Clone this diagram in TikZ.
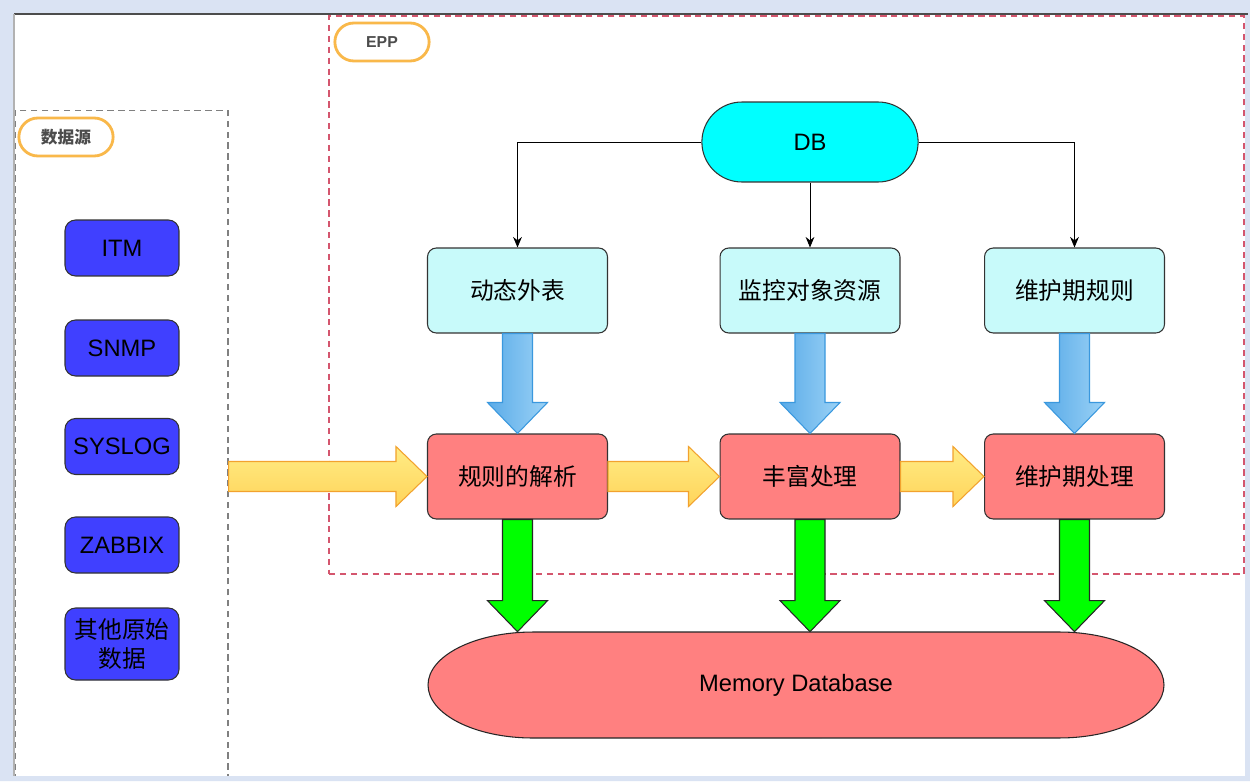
\documentclass[tikz,border=0pt]{standalone}
\usepackage{fontspec}
\setmainfont{Liberation Sans}
\newfontfamily\cjk{Noto Sans CJK SC}
\usetikzlibrary{arrows.meta,calc,shapes.misc}
\definecolor{bgblue}{HTML}{DAE3F3}
\definecolor{srcblue}{HTML}{4040FF}
\definecolor{dbcyan}{HTML}{00FFFF}
\definecolor{lcyan}{HTML}{C8FAFA}
\definecolor{lred}{HTML}{FF8080}
\definecolor{pillorange}{HTML}{F9B84A}
\definecolor{eppred}{HTML}{D4566E}
\definecolor{arrblueA}{HTML}{5AABE8}
\definecolor{arrblueB}{HTML}{9BD2F6}
\definecolor{arrblueD}{HTML}{3A98DE}
\definecolor{arryelA}{HTML}{FFEC85}
\definecolor{arryelB}{HTML}{FFD45A}
\definecolor{arryelD}{HTML}{F2A22E}
\begin{document}
\begin{tikzpicture}[x=0.02cm,y=-0.02cm,
  txt/.style={font=\fontsize{13.5}{16}\selectfont},
  srcbox/.style={txt,draw=black!80,line width=0.6pt,fill=srcblue,rounded corners=6pt,minimum width=2.28cm,minimum height=1.12cm,align=center,inner sep=1pt},
  stepbox/.style={txt,draw=black!80,line width=0.6pt,fill=lcyan,rounded corners=5pt,minimum width=3.6cm,minimum height=1.7cm},
  procbox/.style={stepbox,fill=lred},
  pill/.style={draw=pillorange,line width=1.6pt,rounded rectangle,minimum width=2.12cm,minimum height=0.76cm,font=\fontsize{9}{11}\selectfont\bfseries,text=black!70},
  frame/.style={dashed,dash pattern=on 3.6pt off 2.6pt,line width=0.7pt},
  thinarr/.style={-{Stealth[length=6pt,width=5pt]},black,line width=0.5pt},
  bluearr/.style={draw=arrblueD,line width=0.6pt,left color=arrblueA,right color=arrblueB},
  yelarr/.style={draw=arryelD,line width=0.6pt,top color=arryelA,bottom color=arryelB},
  greenarr/.style={draw=black!85,line width=0.6pt,fill=green}]
\useasboundingbox (0,0) rectangle (1250,781);
\fill[bgblue] (0,0) rectangle (1250,781);
\fill[white] (14,14) rectangle (1245,776);

\node[frame,draw=gray,minimum width=4.26cm,minimum height=13.5cm,inner sep=0pt] (src) at (121.5,448) {};
\node[frame,draw=eppred,minimum width=18.3cm,minimum height=11.16cm,inner sep=0pt] (epp) at (786.5,295) {};
\node[pill,font=\cjk\fontsize{9.5}{11}\selectfont\bfseries] (srclbl) at (66,137) {数据源};
\node[pill] (epplbl) at (382,42) {EPP};

\node[srcbox] (itm) at (122,248) {ITM};
\node[srcbox] (snmp) at (122,348) {SNMP};
\node[srcbox] (syslog) at (122,446.5) {SYSLOG};
\node[srcbox] (zabbix) at (122,545) {ZABBIX};
\node[srcbox,minimum height=1.44cm,font=\cjk\fontsize{13.5}{17}\selectfont] (other) at (122,644) {其他原始\\数据};

\node[txt,draw=black!80,line width=0.6pt,fill=dbcyan,rounded rectangle,minimum width=4.56cm,minimum height=1.6cm] (db) at (810,142) {DB};
\node[stepbox,font=\cjk\fontsize{13.5}{16}\selectfont] (t1) at (517.5,290.5) {动态外表};
\node[stepbox,font=\cjk\fontsize{13.5}{16}\selectfont] (t2) at (810,290.5) {监控对象资源};
\node[stepbox,font=\cjk\fontsize{13.5}{16}\selectfont] (t3) at (1074.5,290.5) {维护期规则};
\node[procbox,font=\cjk\fontsize{13.5}{16}\selectfont] (r1) at (517.5,476.5) {规则的解析};
\node[procbox,font=\cjk\fontsize{13.5}{16}\selectfont] (r2) at (810,476.5) {丰富处理};
\node[procbox,font=\cjk\fontsize{13.5}{16}\selectfont] (r3) at (1074.5,476.5) {维护期处理};

\draw[draw=black!85,line width=0.6pt,fill=lred] (533,632) -- (1059,632)
  arc[start angle=90,end angle=-90,x radius=2.1cm,y radius=1.06cm] -- (533,738)
  arc[start angle=270,end angle=90,x radius=2.1cm,y radius=1.06cm] -- cycle;
\node[txt,minimum width=14.72cm,minimum height=2.12cm] (mem) at (796,685) {Memory Database};

\draw[thinarr] (db.west) -| (t1.north);
\draw[thinarr] (db.south) -- (t2.north);
\draw[thinarr] (db.east) -| (t3.north);

\foreach \a/\b in {t1/r1,t2/r2,t3/r3}
  \draw[bluearr] ($(\a.south)+(-15,0)$) -- ($(\a.south)+(15,0)$) -- ($(\b.north)+(15,-31)$)
    -- ($(\b.north)+(30,-31)$) -- (\b.north) -- ($(\b.north)+(-30,-31)$) -- ($(\b.north)+(-15,-31)$) -- cycle;

\foreach \a/\b in {src/r1,r1/r2,r2/r3}{
  \coordinate (y\b) at (\a.east |- \b.west);
  \draw[yelarr] ($(y\b)+(0,-15)$) -- ($(\b.west)+(-31,-15)$) -- ($(\b.west)+(-31,-30)$) -- (\b.west)
    -- ($(\b.west)+(-31,30)$) -- ($(\b.west)+(-31,15)$) -- ($(y\b)+(0,15)$) -- cycle;
}

\foreach \a in {r1,r2,r3}{
  \coordinate (g\a) at (\a.south |- mem.north);
  \draw[greenarr] ($(\a.south)+(-15,0)$) -- ($(\a.south)+(15,0)$) -- ($(g\a)+(15,-31)$)
    -- ($(g\a)+(30,-31)$) -- (g\a) -- ($(g\a)+(-30,-31)$) -- ($(g\a)+(-15,-31)$) -- cycle;
}

\fill[bgblue,even odd rule] (0,0) rectangle (1250,781) (14,14) rectangle (1245,776);
\draw[black!70,line width=1.3pt] (14,14) -- (1248,14);
\draw[gray!60,line width=0.8pt] (14,14) -- (14,776);
\end{tikzpicture}
\end{document}
